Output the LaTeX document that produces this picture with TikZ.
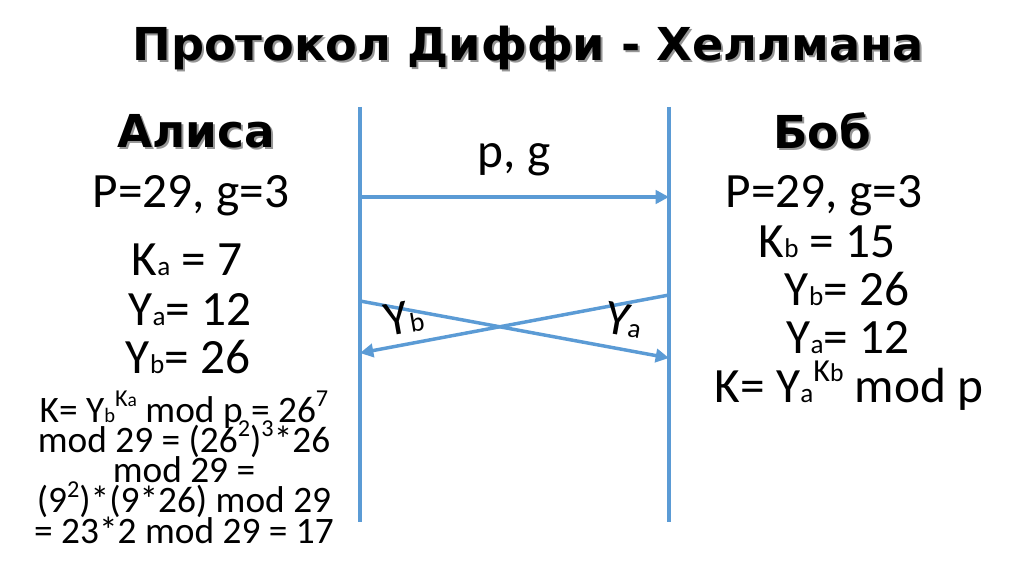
\documentclass[tikz,border=0pt]{standalone}
\usepackage{fontspec}
\setmainfont{Carlito}
\newfontfamily\headfont{DejaVu Sans}
\usetikzlibrary{arrows.meta}

\newcommand{\lo}[1]{\scalebox{0.55}{#1}}
\newcommand{\hi}[1]{\raisebox{0.42em}{\scalebox{0.65}{#1}}}
\newcommand{\tightlines}{\lineskiplimit=-20pt\relax\lineskip=0pt\relax}

\tikzset{
  lifeline/.style={color={rgb, 255:red, 91; green, 155; blue, 213}, line width=2.6pt},
  message/.style={lifeline, -{Triangle[length=10pt, width=10pt]}},
  head/.style={inner sep=0.75pt, font=\headfont\bfseries\fontsize{34}{38}\selectfont},
  shade/.style={head, text={rgb, 255:red, 150; green, 150; blue, 150}},
  body/.style={inner sep=0.75pt, font=\fontsize{37}{42}\selectfont},
  calc/.style={inner sep=0.75pt, align=center, font=\fontsize{28}{22.6}\selectfont\tightlines},
}

\begin{document}
\begin{tikzpicture}[x=0.75pt,y=0.75pt,yscale=-1,xscale=1]
\path[use as bounding box, fill=white] (0,0) rectangle (1024,574);

%Lifelines
\coordinate (aTop) at (360,107); \coordinate (aBot) at (360,522);
\coordinate (bTop) at (669,107); \coordinate (bBot) at (669,522);
\draw [lifeline] (aTop) -- (aBot) ;
\draw [lifeline] (bTop) -- (bBot) ;

%Messages
\coordinate (pgA) at (360,197); \coordinate (pgB) at (669,197);
\coordinate (yaA) at (360,301); \coordinate (yaB) at (669,358);
\coordinate (ybB) at (669,295); \coordinate (ybA) at (360,353);
\draw [message] (pgA) -- (pgB) ;
\draw [message] (yaA) -- (yaB) ;
\draw [message] (ybB) -- (ybA) ;

% Text Node
\draw (530,50) node [shade] {\scalebox{1.02}[1]{Протокол Диффи - Хеллмана}};
\draw (528,48) node [head] (title) {\scalebox{1.02}[1]{Протокол Диффи - Хеллмана}};
% Text Node
\draw (198,133) node [shade] {Алиса};
\draw (196,131) node [head] (alice) {Алиса};
\draw (824,133) node [shade] {Боб};
\draw (822,131) node [head] (bob) {Боб};

% Text Node
\draw (514,167) node [anchor=base][body] (pg) {p, g};
\draw (404,318) node [body, rotate=10] (yb) {Y\lo{b}};
\draw (624,320) node [body, rotate=-10] (ya) {Y\lo{a}};

% Alice column
\draw (191,207) node [anchor=base][body] (aP) {P=29, g=3};
\draw (187,275) node [anchor=base][body] (aK) {K\lo{a} = 7};
\draw (190,325) node [anchor=base][body] (aYa) {Y\lo{a}= 12};
\draw (188,373) node [anchor=base][body] (aYb) {Y\lo{b}= 26};
\draw (184,390) node [anchor=north][calc] (aKey) {K= Y\lo{b}\hi{K\scalebox{0.8}{a}} mod p = 26\hi{7}\\ mod 29 = (26\hi{2})\hi{3}*26\\ mod 29 =\\ (9\hi{2})*(9*26) mod 29\\ = 23*2 mod 29 = 17};

% Bob column
\draw (824,207) node [anchor=base][body] (bP) {P=29, g=3};
\draw (827,257) node [anchor=base][body] (bK) {K\lo{b} = 15};
\draw (847,305) node [anchor=base][body] (bYb) {Y\lo{b}= 26};
\draw (848,353) node [anchor=base][body] (bYa) {Y\lo{a}= 12};
\draw (849,402) node [anchor=base][body] (bKey) {K= Y\lo{a}\hi{K\scalebox{0.8}{b}} mod p};
\end{tikzpicture}
\end{document}
